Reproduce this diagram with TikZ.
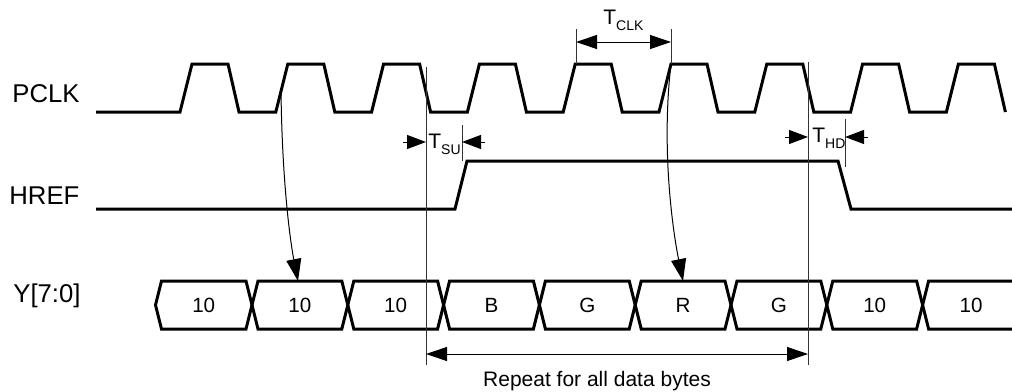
\documentclass[tikz,border=0pt]{standalone}
\usepackage{fontspec}
\setmainfont{Liberation Sans}
\usetikzlibrary{arrows.meta}
\tikzset{
  sig/.style={line width=1.5pt},
  guide/.style={line width=0.45pt, black!80},
  dim/.style={line width=0.5pt, -{Triangle[length=9.5pt,width=7pt]}},
  dimboth/.style={line width=0.5pt, {Triangle[length=10.5pt,width=7pt]}-{Triangle[length=10.5pt,width=7pt]}},
  sample/.style={line width=0.5pt, -{Triangle[length=11pt,width=7.5pt]}},
  siglabel/.style={anchor=base west, inner sep=0pt, font=\fontsize{12.85}{14}\selectfont},
  cell/.style={inner sep=0pt, font=\fontsize{10.3}{12}\selectfont},
  tlabel/.style={anchor=base west, inner sep=0pt, font=\fontsize{10.5}{12}\selectfont},
}
\newcommand{\tsub}[1]{T\raisebox{-3pt}{\fontsize{7}{8}\selectfont #1}}
\begin{document}
\begin{tikzpicture}[x=0.5pt, y=-0.5pt]
  \useasboundingbox (0,0) rectangle (1012,391);
  \node[siglabel] (pclk) at (12,102) {PCLK};
  \node[siglabel] (href) at (9,204) {HREF};
  \node[siglabel] (ybus) at (13,302) {Y[7:0]};
  \draw[sig] (96,112)
    \foreach \k [evaluate=\k as \r using 180+95.8*\k] in {0,...,8} {
      -- (\r,112) -- ({\r+12},64) -- ({\r+48},64) -- ({\r+59},112)
    };
  \draw[sig] (96,209) -- (455,209) -- (467,161) -- (838,161) -- (851,209) -- (1012,209);
  \foreach \a/\b/\txt [count=\i] in {155.5/252/10, 252/347.8/10, 347.8/443.6/10,
      443.6/539.4/B, 539.4/635.2/G, 635.2/731/R, 731/826.8/G, 826.8/922.6/10} {
    \draw[sig] (\a,305) -- ({\a+6},281) -- ({\b-6},281) -- (\b,305)
      -- ({\b-6},329) -- ({\a+6},329) -- cycle;
    \node[cell] (y\i) at ({(\a+\b)/2},305) {\txt};
  }
  \draw[sig] (1012,281) -- (928.6,281) -- (922.6,305) -- (928.6,329) -- (1012,329);
  \node[cell] (y9) at (971,305) {10};
  \begin{scope}[guide]
    \draw (426,67) -- (426,365);
    \draw (808,62) -- (808,365);
    \draw (462,125) -- (462,161);
    \draw (845,119) -- (845,167);
    \draw (576,29) -- (576,64);
    \draw (671,29) -- (671,64);
  \end{scope}
  \coordinate (clkA) at (576,42);
  \coordinate (clkB) at (671,42);
  \draw[dimboth] (clkA) -- (clkB);
  \node[tlabel] (tclk) at (603,25) {\tsub{CLK}};
  \coordinate (suA) at (403,142);
  \coordinate (suB) at (426,142);
  \coordinate (suC) at (462,142);
  \coordinate (suD) at (485,142);
  \draw[dim] (suA) -- (suB);
  \draw[dim] (suD) -- (suC);
  \node[tlabel] (tsu) at (428,148) {\tsub{SU}};
  \coordinate (hdA) at (785,137);
  \coordinate (hdB) at (808,137);
  \coordinate (hdC) at (845,137);
  \coordinate (hdD) at (868,137);
  \draw[dim] (hdA) -- (hdB);
  \draw[dim] (hdD) -- (hdC);
  \node[tlabel] (thd) at (812,142) {\tsub{HD}};
  \coordinate (e1) at (281,90);
  \coordinate (d1) at (298,281);
  \coordinate (e2) at (671,64);
  \coordinate (d2) at (683,281);
  \draw[sample] (e1) .. controls (282,180) and (290,240) .. (d1);
  \draw[sample] (e2) .. controls (661,150) and (673,232) .. (d2);
  \coordinate (rpA) at (426,354);
  \coordinate (rpB) at (808,354);
  \draw[dimboth] (rpA) -- (rpB);
  \node[anchor=base, inner sep=0pt, font=\fontsize{10.5}{12}\selectfont] (rep) at (597,386) {Repeat for all data bytes};
\end{tikzpicture}
\end{document}
